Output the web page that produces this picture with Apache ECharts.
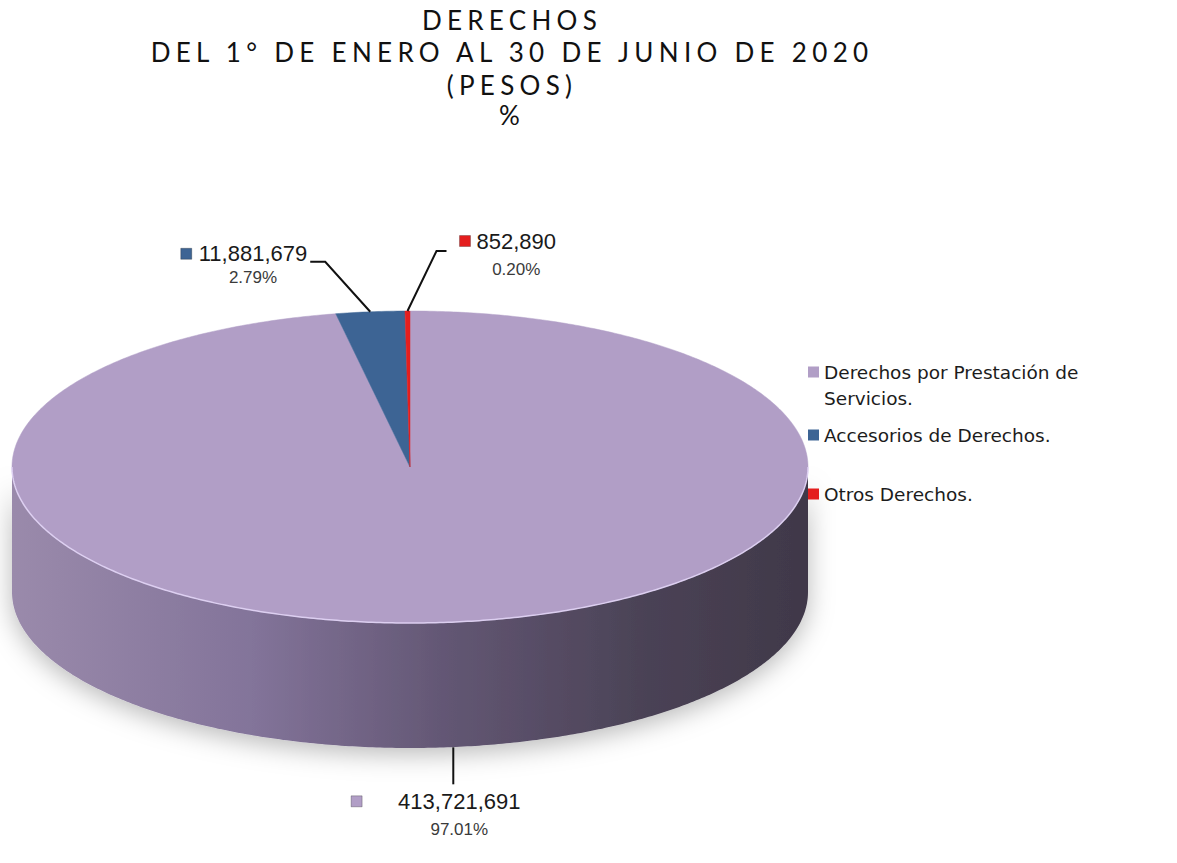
<!DOCTYPE html>
<html>
<head>
<meta charset="utf-8">
<script src="https://cdn.jsdelivr.net/npm/echarts@6/dist/echarts.min.js"></script>
<style>
html, body { margin: 0; padding: 0; background: #fff; }
#main { width: 1177px; height: 863px; }
/* the heading in the original is widely tracked */
#main text[style*="Lato"], #main text[font-family*="Lato"] { letter-spacing: 5.3px; }
</style>
</head>
<body>
<div id="main"></div>
<script>
var titleLines = ['DERECHOS', 'DEL 1° DE ENERO AL 30 DE JUNIO DE 2020', '(PESOS)', '%'];
var categories = ['Derechos por Prestación de Servicios.', 'Accesorios de Derechos.', 'Otros Derechos.'];
var amounts = [413721691, 11881679, 852890];
var sliceColors = ['#b19ec6', '#3d6494', '#e41e1e'];

// ellipse of the top face and wall height
var pie = { cx: 410, cy: 467, rx: 398, ry: 156, depth: 125 };

// where each callout goes, relative to the slice edge
var callouts = [
    { edge: 'bottom', dx: 6, dy: 37, run: 0, markerGap: 36 },
    { edge: 'top', dx: -45, dy: -50, run: -15, markerGap: 7 },
    { edge: 'top', dx: 29, dy: -60, run: 10, markerGap: 6 }
];

var valueFont = '22px "Liberation Sans"';
var pctFont = '17px "Liberation Sans"';

var total = amounts.reduce(function (a, b) { return a + b; }, 0);
var startAngle = [], endAngle = [];
(function () {
    var acc = 0;
    amounts.forEach(function (v) {
        startAngle.push(acc / total * Math.PI * 2);
        acc += v;
        endAngle.push(acc / total * Math.PI * 2);
    });
})();

var measureCtx = document.createElement('canvas').getContext('2d');
function textWidth(s, font) {
    measureCtx.font = font;
    return measureCtx.measureText(s).width;
}

function ellipsePoint(t, drop) {
    return [pie.cx + pie.rx * Math.sin(t), pie.cy - pie.ry * Math.cos(t) + (drop || 0)];
}
function arcPoints(t0, t1, drop) {
    var n = Math.max(2, Math.ceil(Math.abs(t1 - t0) / 0.01));
    var pts = [];
    for (var i = 0; i <= n; i++) pts.push(ellipsePoint(t0 + (t1 - t0) * i / n, drop));
    return pts;
}

var wallGradient = new echarts.graphic.LinearGradient(pie.cx - pie.rx, 0, pie.cx + pie.rx, 0, [
    { offset: 0, color: '#9a8aab' },
    { offset: 0.3, color: '#83749a' },
    { offset: 0.55, color: '#625673' },
    { offset: 0.8, color: '#4a4255' },
    { offset: 1, color: '#403849' }
], true);

function renderWall(params, api) {
    var i = params.dataIndex;
    var a = Math.max(startAngle[i], Math.PI / 2), b = Math.min(endAngle[i], Math.PI * 1.5);
    if (a >= b) return { type: 'group', children: [] };
    var pts = arcPoints(a, b, 0).concat(arcPoints(b, a, pie.depth));
    return {
        type: 'polygon',
        shape: { points: pts },
        style: {
            fill: wallGradient,
            shadowBlur: 26,
            shadowColor: 'rgba(0,0,0,0.28)',
            shadowOffsetY: 6
        }
    };
}

function renderTop(params, api) {
    var i = params.dataIndex;
    var pts = [[pie.cx, pie.cy]].concat(arcPoints(startAngle[i], endAngle[i], 0));
    var children = [{
        type: 'polygon',
        shape: { points: pts },
        style: { fill: sliceColors[i], stroke: sliceColors[i], lineWidth: 0.5 }
    }];
    var a = Math.max(startAngle[i], Math.PI / 2), b = Math.min(endAngle[i], Math.PI * 1.5);
    if (a < b) {
        children.push({
            type: 'polyline',
            shape: { points: arcPoints(a, b, 0) },
            style: { stroke: 'rgba(225,212,245,0.9)', lineWidth: 1.5, fill: null }
        });
    }
    return { type: 'group', children: children };
}

function renderCallout(params, api) {
    var i = params.dataIndex;
    var c = callouts[i];
    var mid = (startAngle[i] + endAngle[i]) / 2;
    var anchor = ellipsePoint(mid, c.edge === 'bottom' ? pie.depth : 0);
    anchor[0] += c.edge === 'bottom' ? c.dx : 0;
    var elbow = [anchor[0] + (c.edge === 'bottom' ? 0 : c.dx), anchor[1] + c.dy];
    var end = [elbow[0] + c.run, elbow[1]];
    var valueText = api.value(0).toLocaleString('en-US');
    var pctText = (api.value(0) / total * 100).toFixed(2) + '%';
    var w = textWidth(valueText, valueFont);
    var left, vy, py;
    if (c.run < 0) {
        left = end[0] - 3 - w; vy = end[1] - 8; py = end[1] + 16;
    } else if (c.run > 0) {
        left = end[0] + 13 + c.markerGap + 11; vy = end[1] - 10; py = end[1] + 18;
    } else {
        left = end[0] + 6 - w / 2; vy = end[1] + 17; py = end[1] + 45;
    }
    var mx = left - c.markerGap - 11;
    return {
        type: 'group',
        children: [
            { type: 'polyline', shape: { points: [anchor, elbow, end] }, style: { stroke: '#111', lineWidth: 2, fill: null } },
            { type: 'rect', shape: { x: mx, y: vy - 5.5, width: 11, height: 11 },
              style: { fill: sliceColors[i], stroke: 'rgba(0,0,0,0.25)', lineWidth: 1 } },
            { type: 'text', style: { x: left, y: vy, text: valueText, font: valueFont, fill: '#1a1a1a', align: 'left', verticalAlign: 'middle' } },
            { type: 'text', style: { x: left + w / 2, y: py, text: pctText, font: pctFont, fill: '#3a3a3a', align: 'center', verticalAlign: 'middle' } }
        ]
    };
}

var chart = echarts.init(document.getElementById('main'), null, { renderer: 'svg' });

var titleY = [20, 52, 85, 115];
var titleGraphics = titleLines.map(function (line, k) {
    return {
        type: 'text',
        x: 512,
        y: titleY[k],
        style: {
            text: line,
            font: '26px "Lato"',
            fill: '#111',
            align: 'center',
            verticalAlign: 'middle'
        }
    };
});

var seriesData = amounts.map(function (v, i) { return { name: categories[i], value: v }; });

// square sitting at the top of a tall box, so it lines up with the first text line
var topSquare = 'path://M0,0h11v11h-11z M0,37h11v0h-11z';
var legendTops = [354, 417, 476];
var legendText = { fontFamily: 'DejaVu Sans', fontSize: 18.5, color: '#1c1c1c', lineHeight: 26 };

chart.setOption({
    animation: false,
    graphic: titleGraphics,
    legend: categories.map(function (name, i) {
        return {
            orient: 'vertical',
            left: 803,
            top: legendTops[i],
            icon: i === 0 ? topSquare : 'rect',
            itemWidth: 11,
            itemHeight: i === 0 ? 37 : 11,
            selectedMode: false,
            textStyle: legendText,
            formatter: function (n) { return n.replace(' Servicios', '\nServicios'); },
            data: [name]
        };
    }),
    series: [
        {
            type: 'pie',
            radius: [0, 0],
            silent: true,
            label: { show: false },
            data: amounts.map(function (v, i) {
                return { name: categories[i], value: v, itemStyle: { color: sliceColors[i] } };
            })
        },
        { type: 'custom', name: 'wall', coordinateSystem: 'none', silent: true, z: 1, renderItem: renderWall, data: seriesData },
        { type: 'custom', name: 'top', coordinateSystem: 'none', silent: true, z: 2, renderItem: renderTop, data: seriesData },
        { type: 'custom', name: 'callout', coordinateSystem: 'none', silent: true, z: 3, renderItem: renderCallout, data: seriesData }
    ]
});
</script>
</body>
</html>
